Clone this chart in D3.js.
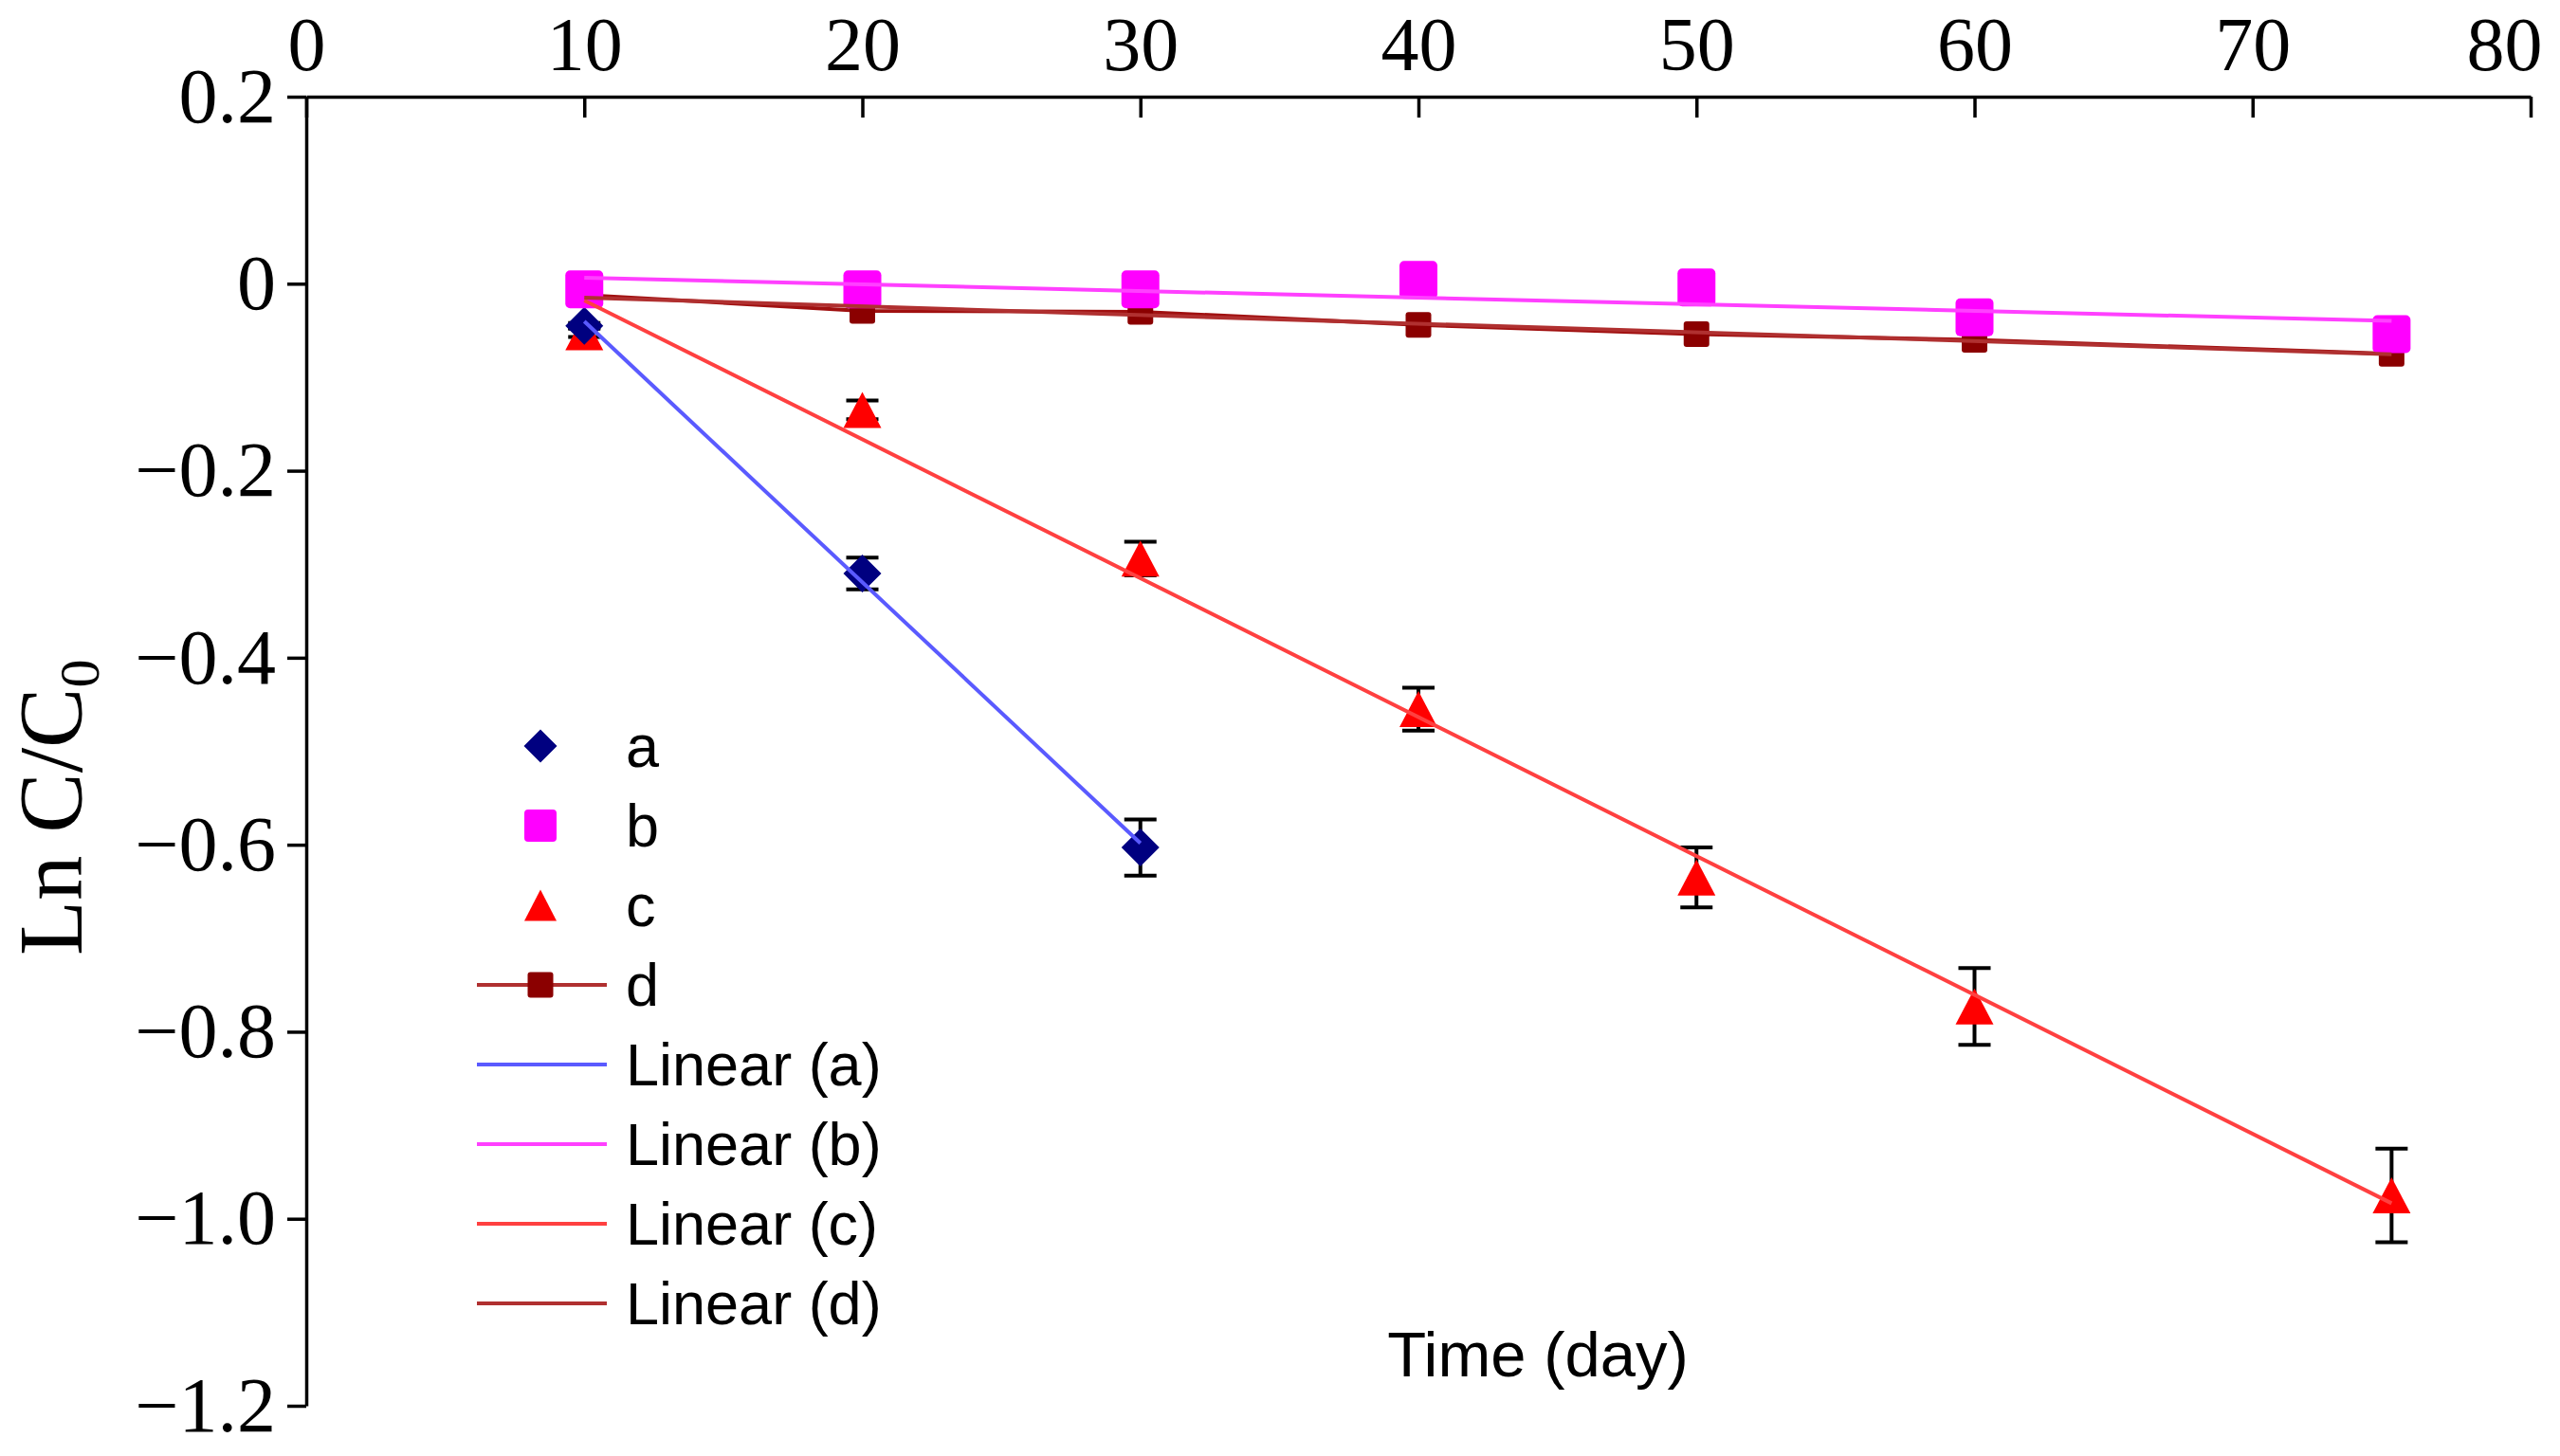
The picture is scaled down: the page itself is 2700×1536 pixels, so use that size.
<!DOCTYPE html>
<html>
<head>
<meta charset="utf-8">
<script src="https://cdn.jsdelivr.net/npm/d3@7"></script>
<style>
  body { margin: 0; background: #fff; }
  svg { display: block; }
  .axis text { font-family: "Liberation Serif", "Times New Roman", serif; font-size: 82px; fill: #000; }
  .axis path, .axis line { stroke: #000; stroke-width: 3.5; }
  .x-axis text { font-size: 80px; }
  .legend text, .x-title { font-family: "Liberation Sans", Arial, sans-serif; fill: #000; }
</style>
</head>
<body>
<svg id="chart" width="2700" height="1536"></svg>
<script>
// Sampling days
const days = [10, 20, 30, 40, 50, 60, 75];
const daysA = [10, 20, 30];

// Ln C/C0 per series
const seriesA = [-0.045, -0.31, -0.603];
const seriesB = [-0.006, -0.006, -0.006, 0.004, -0.004, -0.036, -0.054];
const seriesC = [-0.052, -0.135, -0.294, -0.455, -0.635, -0.773, -0.975];
const seriesD = [-0.012, -0.029, -0.030, -0.044, -0.054, -0.060, -0.075];

// error bar half widths
const errA = [0.003, 0.017, 0.03];
const errC = [0.005, 0.01, 0.018, 0.023, 0.032, 0.041, 0.05];

const xTicks = [0, 10, 20, 30, 40, 50, 60, 70, 80];
const yTicks = [0.2, 0, -0.2, -0.4, -0.6, -0.8, -1.0, -1.2];

const legendLabels = ['a', 'b', 'c', 'd', 'Linear (a)', 'Linear (b)', 'Linear (c)', 'Linear (d)'];

const colors = { a: '#000080', b: '#ff00ff', c: '#ff0000', d: '#8b0000' };
const trendColors = { a: '#5a5aff', b: '#ff40ff', c: '#ff4040', d: '#b03030' };

const svg = d3.select('#chart');

const x = d3.scaleLinear().domain([0, 80]).range([323, 2669]);
const y = d3.scaleLinear().domain([0.2, -1.2]).range([102, 1483]);

// Axes: x on top with ticks pointing down, y on the left
const xAxis = svg.append('g')
  .attr('class', 'axis x-axis')
  .attr('transform', `translate(0,${y(0.2)})`)
  .call(d3.axisTop(x).tickValues(xTicks).tickSizeInner(-22).tickSizeOuter(0).tickPadding(28));
xAxis.selectAll('text').filter(d => d === 80).attr('dx', -28);

const yFmt = d => d === 0 ? '0' : d3.format('.1f')(d);
svg.append('g')
  .attr('class', 'axis')
  .attr('transform', `translate(${x(0)},0)`)
  .call(d3.axisLeft(y).tickValues(yTicks).tickFormat(yFmt).tickSizeInner(20).tickSizeOuter(0).tickPadding(12));

// Axis titles
const yTitle = svg.append('text')
  .attr('transform', 'translate(86,1008) rotate(-90)')
  .attr('font-family', '"Liberation Serif", "Times New Roman", serif')
  .attr('font-size', 95);
yTitle.append('tspan').text('Ln C/C');
yTitle.append('tspan').attr('font-size', 60).attr('dy', 18).text('0');

svg.append('text')
  .attr('class', 'x-title')
  .attr('x', 1622)
  .attr('y', 1452)
  .attr('text-anchor', 'middle')
  .attr('font-size', 67)
  .text('Time (day)');

// Marker shapes, drawn around (0,0)
const diamond = (w, h) => `M0,${-h / 2}L${w / 2},0L0,${h / 2}L${-w / 2},0Z`;
const triangle = (w, h) => `M0,${-h / 2}L${w / 2},${h / 2}L${-w / 2},${h / 2}Z`;

function drawErrors(xs, ys, errs) {
  const g = svg.append('g').attr('stroke', '#000').attr('stroke-width', 4);
  xs.forEach((d, i) => {
    const cx = x(d), top = y(ys[i] + errs[i]), bot = y(ys[i] - errs[i]);
    g.append('line').attr('x1', cx).attr('x2', cx).attr('y1', top).attr('y2', bot);
    g.append('line').attr('x1', cx - 17).attr('x2', cx + 17).attr('y1', top).attr('y2', top);
    g.append('line').attr('x1', cx - 17).attr('x2', cx + 17).attr('y1', bot).attr('y2', bot);
  });
}

function linearFit(xs, ys) {
  const mx = d3.mean(xs), my = d3.mean(ys);
  const sxy = d3.sum(xs, (d, i) => (d - mx) * (ys[i] - my));
  const sxx = d3.sum(xs, d => (d - mx) * (d - mx));
  const k = sxy / sxx;
  return v => my + k * (v - mx);
}

function drawTrend(xs, ys, color) {
  const f = linearFit(xs, ys);
  const ends = d3.extent(xs);
  svg.append('line')
    .attr('x1', x(ends[0])).attr('y1', y(f(ends[0])))
    .attr('x2', x(ends[1])).attr('y2', y(f(ends[1])))
    .attr('stroke', color)
    .attr('stroke-width', 4);
}

// Series d: line with small squares
svg.append('path')
  .datum(days.map((d, i) => [d, seriesD[i]]))
  .attr('fill', 'none')
  .attr('stroke', '#a01010')
  .attr('stroke-width', 4)
  .attr('d', d3.line().x(d => x(d[0])).y(d => y(d[1])));
svg.append('g').selectAll('rect')
  .data(days)
  .join('rect')
  .attr('x', d => x(d) - 13.5)
  .attr('y', (d, i) => y(seriesD[i]) - 13.5)
  .attr('width', 27).attr('height', 27).attr('rx', 3)
  .attr('fill', colors.d);

// Series c: triangles with error bars
drawErrors(days, seriesC, errC);
svg.append('g').selectAll('path')
  .data(days)
  .join('path')
  .attr('transform', (d, i) => `translate(${x(d)},${y(seriesC[i])})`)
  .attr('d', triangle(40, 38))
  .attr('fill', colors.c);

// Series a: diamonds with error bars
drawErrors(daysA, seriesA, errA);
svg.append('g').selectAll('path')
  .data(daysA)
  .join('path')
  .attr('transform', (d, i) => `translate(${x(d)},${y(seriesA[i])})`)
  .attr('d', diamond(40, 40))
  .attr('fill', colors.a);

// Series b: squares
svg.append('g').selectAll('rect')
  .data(days)
  .join('rect')
  .attr('x', d => x(d) - 20)
  .attr('y', (d, i) => y(seriesB[i]) - 20)
  .attr('width', 40).attr('height', 40).attr('rx', 5)
  .attr('fill', colors.b);

// Linear trend lines on top
drawTrend(daysA, seriesA, trendColors.a);
drawTrend(days, seriesB, trendColors.b);
drawTrend(days, seriesC, trendColors.c);
drawTrend(days, seriesD, trendColors.d);

// Legend
const legend = svg.append('g').attr('class', 'legend');
const rowY = i => 787 + i * 84;
legendLabels.forEach((label, i) => {
  const row = legend.append('g').attr('transform', `translate(0,${rowY(i)})`);
  if (i === 0) row.append('path').attr('transform', 'translate(570,0)').attr('d', diamond(35, 35)).attr('fill', colors.a);
  if (i === 1) row.append('rect').attr('x', 553).attr('y', -17).attr('width', 34).attr('height', 34).attr('rx', 4).attr('fill', colors.b);
  if (i === 2) row.append('path').attr('transform', 'translate(570,0)').attr('d', triangle(34, 33)).attr('fill', colors.c);
  if (i === 3) {
    row.append('line').attr('x1', 503).attr('x2', 640).attr('stroke', '#b03030').attr('stroke-width', 4);
    row.append('rect').attr('x', 556.5).attr('y', -13.5).attr('width', 27).attr('height', 27).attr('rx', 3).attr('fill', colors.d);
  }
  if (i >= 4) {
    const key = ['a', 'b', 'c', 'd'][i - 4];
    row.append('line').attr('x1', 503).attr('x2', 640).attr('stroke', trendColors[key]).attr('stroke-width', 4);
  }
  row.append('text')
    .attr('x', 660)
    .attr('dy', '0.35em')
    .attr('font-size', 63)
    .text(label);
});
</script>
</body>
</html>
